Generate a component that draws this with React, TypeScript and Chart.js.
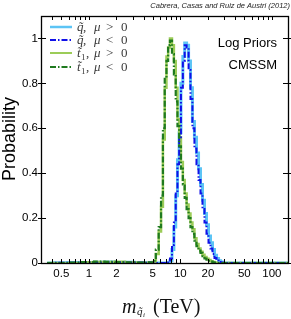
import React, { useEffect, useRef } from 'react';
import { Chart, registerables } from 'chart.js';
Chart.register(...registerables);

const W = 291;
const H = 319;

// bin centres (TeV)
const massTeV = [
  0.35, 0.5, 0.7, 1.0, 1.3, 1.7, 2.2, 2.8, 3.5, 4.3, 4.8,
  5.2, 5.6, 6.0, 6.3, 6.6, 6.9, 7.2, 7.5, 7.9, 8.3,
  8.7, 9.1, 9.5, 9.9, 10.4, 10.9, 11.4, 12.0, 12.6, 13.2,
  13.9, 14.6, 15.4, 16.2, 17.0, 17.9, 18.8, 19.8, 20.8, 21.9,
  23.0, 24.2, 25.5, 26.8, 28.2, 30.0,
  40, 60, 100, 150,
];

const squarkMuPos = [
  0, 0.001, 0.002, 0.002, 0.003, 0.004, 0.002, 0.003, 0.002, 0.001, 0.001,
  0, 0, 0, 0, 0, 0, 0, 0, 0.01, 0.06,
  0.16, 0.3, 0.46, 0.58, 0.8, 0.92, 0.98, 0.97, 0.9, 0.78,
  0.63, 0.56, 0.49, 0.42, 0.35, 0.28, 0.22, 0.17, 0.12, 0.09,
  0.06, 0.035, 0.02, 0.01, 0.004, 0,
  0, 0, 0, 0,
];

const squarkMuNeg = [
  0, 0.001, 0.001, 0.003, 0.002, 0.003, 0.003, 0.002, 0.002, 0.001, 0.002,
  0, 0, 0, 0, 0, 0, 0, 0.002, 0.02, 0.08,
  0.18, 0.31, 0.44, 0.56, 0.78, 0.9, 0.97, 0.96, 0.86, 0.73,
  0.6, 0.51, 0.44, 0.37, 0.31, 0.24, 0.18, 0.13, 0.09, 0.065,
  0.04, 0.022, 0.011, 0.005, 0.002, 0,
  0, 0, 0, 0,
];

const stopMuPos = [
  0, 0, 0, 0.003, 0.005, 0.004, 0.006, 0.003, 0.002, 0.001, 0.002,
  0.005, 0.04, 0.14, 0.25, 0.55, 0.78, 0.92, 0.96, 1.0, 0.97,
  0.9, 0.78, 0.64, 0.56, 0.45, 0.37, 0.31, 0.26, 0.22, 0.18,
  0.15, 0.11, 0.085, 0.065, 0.05, 0.037, 0.027, 0.019, 0.013, 0.008,
  0.004, 0.002, 0, 0, 0, 0,
  0, 0, 0, 0,
];

const stopMuNeg = [
  0, 0, 0.002, 0.004, 0.006, 0.005, 0.004, 0.003, 0.002, 0.001, 0.003,
  0.01, 0.06, 0.16, 0.3, 0.6, 0.82, 0.9, 0.97, 0.99, 0.93,
  0.84, 0.72, 0.61, 0.52, 0.42, 0.35, 0.29, 0.24, 0.2, 0.16,
  0.13, 0.1, 0.075, 0.055, 0.045, 0.03, 0.02, 0.015, 0.01, 0.006,
  0.003, 0.001, 0, 0, 0, 0,
  0, 0, 0, 0,
];

const xTickMarks = [
  0.4, 0.5, 0.6, 0.7, 0.8, 0.9,
  1, 2, 3, 4, 5, 6, 7, 8, 9,
  10, 20, 30, 40, 50, 60, 70, 80, 90,
  100,
];
const xTickLabels = [0.5, 1, 2, 5, 10, 20, 50, 100];
const yTickValues = [0, 0.2, 0.4, 0.6, 0.8, 1];

const COL_SQ_POS = '#5cc4f5';
const COL_SQ_NEG = '#1010e8';
const COL_ST_POS = '#9ccc58';
const COL_ST_NEG = '#1f7a1f';

const DASHDOT = [6, 2, 1.5, 2];

const toPoints = (ys: number[]) => massTeV.map((x, i) => ({ x, y: ys[i] }));

const framePlugin = {
  id: 'frame',
  afterDatasetsDraw(chart: any) {
    const { ctx, chartArea: a, scales } = chart;
    const xs = scales.x;
    const ys = scales.y;
    ctx.save();
    ctx.strokeStyle = '#000';
    ctx.lineWidth = 1;
    const line = (x1: number, y1: number, x2: number, y2: number) => {
      ctx.beginPath();
      ctx.moveTo(x1, y1);
      ctx.lineTo(x2, y2);
      ctx.stroke();
    };
    xTickMarks.forEach((v) => {
      const px = Math.round(xs.getPixelForValue(v)) + 0.5;
      line(px, a.bottom, px, a.bottom - 4);
      line(px, a.top, px, a.top + 4);
    });
    yTickValues.forEach((v) => {
      const py = Math.round(ys.getPixelForValue(v)) + 0.5;
      line(a.left - 3, py, a.left + 5, py);
      line(a.right - 5, py, a.right + 3, py);
    });
    ctx.lineWidth = 1.3;
    ctx.strokeRect(Math.round(a.left) + 0.5, Math.round(a.top) + 0.5, Math.round(a.right - a.left), Math.round(a.bottom - a.top));
    ctx.restore();
  },
};

const legendItems = [
  { color: COL_SQ_POS, dash: [] as number[], width: 2.5, sym: 'q', sub: '', rel: '>' },
  { color: COL_SQ_NEG, dash: DASHDOT, width: 2, sym: 'q', sub: '', rel: '<' },
  { color: COL_ST_POS, dash: [] as number[], width: 2, sym: 't', sub: '1', rel: '>' },
  { color: COL_ST_NEG, dash: DASHDOT, width: 2.2, sym: 't', sub: '1', rel: '<' },
];

const textPlugin = {
  id: 'texts',
  afterDraw(chart: any) {
    const { ctx } = chart;
    ctx.save();
    // citation
    ctx.fillStyle = '#222';
    ctx.font = 'italic 7.5px "Liberation Sans"';
    ctx.textAlign = 'right';
    ctx.textBaseline = 'alphabetic';
    ctx.fillText('Cabrera, Casas and Ruiz de Austri (2012)', 290, 8);

    // annotations
    ctx.fillStyle = '#000';
    ctx.font = '13px "Liberation Sans"';
    ctx.fillText('Log Priors', 277, 47);
    ctx.fillText('CMSSM', 277, 69);

    // y title
    ctx.save();
    ctx.translate(15, 139);
    ctx.rotate(-Math.PI / 2);
    ctx.textAlign = 'center';
    ctx.font = '18px "Liberation Sans"';
    ctx.fillText('Probability', 0, 0);
    ctx.restore();

    // x title
    ctx.textAlign = 'left';
    ctx.fillStyle = '#111';
    ctx.font = 'italic 20px "Liberation Serif"';
    ctx.fillText('m', 122, 313);
    ctx.font = 'italic 11px "Liberation Serif"';
    ctx.fillText('q\u0303', 137, 315);
    ctx.font = 'italic 7px "Liberation Serif"';
    ctx.fillText('i', 143, 317);
    ctx.font = '20px "Liberation Serif"';
    ctx.fillText('(TeV)', 153, 313);

    // legend
    const rows = [27, 40, 53, 67];
    legendItems.forEach((it, i) => {
      const y = rows[i];
      ctx.strokeStyle = it.color;
      ctx.lineWidth = it.width;
      ctx.setLineDash(it.dash);
      ctx.beginPath();
      ctx.moveTo(50, y);
      ctx.lineTo(72, y);
      ctx.stroke();
      ctx.setLineDash([]);
      ctx.fillStyle = '#3a3a3a';
      const base = y + 4;
      ctx.font = 'italic 13px "Liberation Serif"';
      ctx.fillText(it.sym + '\u0303', 77, base);
      let cx = 83;
      if (it.sub) {
        ctx.font = '9px "Liberation Serif"';
        ctx.fillText(it.sub, 81, base + 3);
        cx = 86;
      }
      ctx.font = '13px "Liberation Serif"';
      ctx.fillText(',', cx, base);
      ctx.font = 'italic 13px "Liberation Serif"';
      ctx.fillText('\u03bc', 94, base);
      ctx.font = '13px "Liberation Serif"';
      ctx.fillText(it.rel, 106, base);
      ctx.fillText('0', 121, base);
    });
    ctx.restore();
  },
};

export default function App() {
  const ref = useRef<HTMLCanvasElement>(null);
  useEffect(() => {
    document.body.style.margin = '0';
    const mk = (label: string, data: number[], color: string, width: number, dash: number[], order: number) => ({
      label,
      data: toPoints(data),
      borderColor: color,
      borderWidth: width,
      borderDash: dash,
      pointRadius: 0,
      fill: false,
      stepped: 'middle' as const,
      order,
    });
    const chart = new Chart(ref.current!, {
      type: 'line',
      data: {
        datasets: [
          mk('squark mu>0', squarkMuPos, COL_SQ_POS, 3, [], 4),
          mk('stop mu>0', stopMuPos, COL_ST_POS, 2.5, [], 3),
          mk('squark mu<0', squarkMuNeg, COL_SQ_NEG, 2, DASHDOT, 2),
          mk('stop mu<0', stopMuNeg, COL_ST_NEG, 2.2, DASHDOT, 1),
        ] as any,
      },
      options: {
        animation: false,
        responsive: false,
        devicePixelRatio: 1,
        layout: { padding: { top: 16, right: 3, left: 0, bottom: 0 } },
        plugins: { legend: { display: false }, tooltip: { enabled: false } },
        scales: {
          x: {
            type: 'logarithmic',
            min: 0.32,
            max: 150,
            grid: { display: false, drawTicks: false },
            border: { display: false },
            afterBuildTicks: (s: any) => {
              s.ticks = xTickMarks.map((v) => ({ value: v }));
            },
            afterFit: (s: any) => {
              s.height = 56;
            },
            ticks: {
              autoSkip: false,
              maxRotation: 0,
              minRotation: 0,
              padding: 4,
              color: '#000',
              font: { family: 'Liberation Sans', size: 11.5 },
              callback: (v: any) => (xTickLabels.includes(Number(v)) ? String(v) : ''),
            },
          },
          y: {
            type: 'linear',
            min: 0,
            max: 1.1,
            grid: { display: false, drawTicks: false },
            border: { display: false },
            afterBuildTicks: (s: any) => {
              s.ticks = yTickValues.map((v) => ({ value: v }));
            },
            afterFit: (s: any) => {
              s.width = 41;
            },
            ticks: {
              padding: 3,
              color: '#000',
              font: { family: 'Liberation Sans', size: 11.5 },
              callback: (v: any) => String(v),
            },
          },
        },
      },
      plugins: [framePlugin, textPlugin],
    });
    return () => chart.destroy();
  }, []);
  return (
    <div style={{ position: 'absolute', left: 0, top: 0, width: W, height: H, background: '#fff' }}>
      <canvas ref={ref} width={W} height={H} style={{ width: W, height: H, display: 'block' }} />
    </div>
  );
}
